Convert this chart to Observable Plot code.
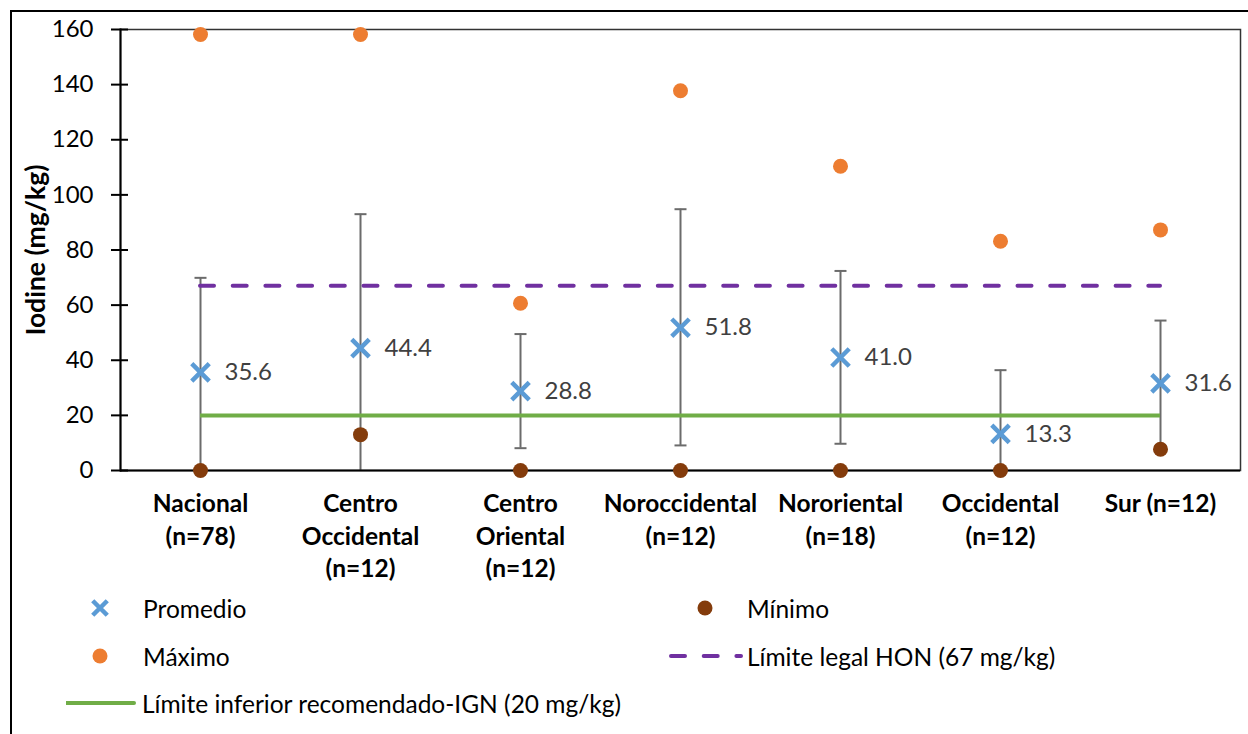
<!DOCTYPE html>
<html><head><meta charset="utf-8">
<script src="https://cdn.jsdelivr.net/npm/d3@7"></script>
<script src="https://cdn.jsdelivr.net/npm/@observablehq/plot@0.6"></script>
<style>
body{margin:0;background:#fff;font-family:Lato,"Open Sans",sans-serif;}
#wrap{position:relative;width:1248px;height:734px;overflow:hidden;background:#fff;}
#frame{position:absolute;left:10px;top:10px;width:1300px;height:800px;border-left:2px solid #000;border-top:2px solid #000;z-index:2;pointer-events:none;}
#chart{position:absolute;left:0;top:0;z-index:1;}
#legend{position:absolute;left:0;top:0;z-index:1;}
.leg{position:absolute;height:30px;display:flex;align-items:center;font-size:24.5px;color:#000;white-space:nowrap;}
.leg svg{flex:none;}
</style></head>
<body><div id="wrap"><div id="chart"></div><div id="legend"></div><div id="frame"></div></div>
<script>
const regions = ["Nacional\n(n=78)", "Centro\nOccidental\n(n=12)", "Centro\nOriental\n(n=12)", "Noroccidental\n(n=12)", "Nororiental\n(n=18)", "Occidental\n(n=12)", "Sur (n=12)"];
const promedio = [35.6, 44.4, 28.8, 51.8, 41.0, 13.3, 31.6];
const maximo = [158.2, 158.2, 60.7, 137.8, 110.4, 83.2, 87.3];
const minimo = [0, 13.0, 0, 0, 0, 0, 7.7];
const errHigh = [69.9, 93.0, 49.5, 94.8, 72.4, 36.4, 54.4];
const errLow = [0, 0, 8.1, 9.1, 9.7, 0, 8.8];
const limiteHON = 67;
const limiteIGN = 20;
const yTicks = [0, 20, 40, 60, 80, 100, 120, 140, 160];
const yLabel = "Iodine (mg/kg)";
const legendLabels = ["Promedio", "Mínimo", "Máximo", "Límite legal HON (67 mg/kg)", "Límite inferior recomendado-IGN (20 mg/kg)"];

const data = regions.map((r, i) => ({region: r, promedio: promedio[i], max: maximo[i], min: minimo[i], high: errHigh[i], low: errLow[i]}));
const font = "Lato, 'Open Sans', sans-serif";
const errColor = "#6b6b6b";

// horizontal cap symbol for error bars
const capSymbol = {draw(context, size) { const h = Math.sqrt(size / Math.PI); context.moveTo(-h, 0); context.lineTo(h, 0); }};

const chart = Plot.plot({
  width: 1248, height: 590,
  marginTop: 29, marginRight: 8, marginBottom: 120, marginLeft: 120,
  style: {fontFamily: font, background: "transparent", overflow: "visible"},
  x: {type: "point", domain: regions, padding: 0.5},
  y: {domain: [0, 160]},
  marks: [
    Plot.frame({stroke: "#333", strokeWidth: 1.5}),
    Plot.ruleX(data, {x: "region", y1: "low", y2: "high", stroke: errColor, strokeWidth: 2}),
    Plot.dot(data, {x: "region", y: "high", symbol: capSymbol, r: 6, stroke: errColor, strokeWidth: 2}),
    Plot.dot(data.filter(d => d.low > 0), {x: "region", y: "low", symbol: capSymbol, r: 6, stroke: errColor, strokeWidth: 2}),
    Plot.ruleY([limiteIGN], {y: d => d, x1: () => regions[0], x2: () => regions[regions.length - 1], stroke: "#70AD47", strokeWidth: 4}),
    Plot.ruleY([limiteHON], {y: d => d, x1: () => regions[0], x2: () => regions[regions.length - 1], stroke: "#7030A0", strokeWidth: 4, strokeDasharray: "14,18.7", strokeLinecap: "round"}),
    Plot.ruleY([0], {stroke: "#000", strokeWidth: 2}),
    Plot.frame({anchor: "left", stroke: "#000", strokeWidth: 2}),
    Plot.dot(data, {x: "region", y: "max", r: 7.5, fill: "#ED7D31"}),
    Plot.dot(data, {x: "region", y: "min", r: 7.5, fill: "#843C0C"}),
    Plot.dot(data, {x: "region", y: "promedio", symbol: "times", r: 8, stroke: "#5B9BD5", strokeWidth: 4.5}),
    Plot.text(data, {x: "region", y: "promedio", text: d => d.promedio.toFixed(1), dx: 24, textAnchor: "start", fontSize: 24, fill: "#404040"}),
    Plot.axisY({ticks: yTicks, tickSize: 17, dx: 8, tickFormat: () => "", stroke: "#000", strokeWidth: 2, label: null}),
    Plot.axisY({ticks: yTicks, tickSize: 0, tickPadding: 27, fontSize: 24, fill: "#000", label: null}),
    Plot.axisY({ticks: [], tickSize: 0, label: yLabel, labelAnchor: "center", labelOffset: 94, labelArrow: "none", fontSize: 26.5, fontWeight: "bold", fill: "#000"}),
    Plot.axisX({tickSize: 0, tickPadding: 18, fontSize: 24.5, fontWeight: "bold", lineHeight: 1.34, label: null, fill: "#000"})
  ]
});
document.getElementById("chart").appendChild(chart);

// legend
const legend = d3.select("#legend");
const items = [
  {label: legendLabels[0], kind: "times", color: "#5B9BD5", sx: 90, tx: 143, y: 608},
  {label: legendLabels[1], kind: "dot", color: "#843C0C", sx: 695, tx: 747, y: 608},
  {label: legendLabels[2], kind: "dot", color: "#ED7D31", sx: 90, tx: 143, y: 656},
  {label: legendLabels[3], kind: "dash", color: "#7030A0", sx: 668, tx: 747, y: 656},
  {label: legendLabels[4], kind: "line", color: "#70AD47", sx: 66, tx: 142, y: 703}
];
items.forEach(it => {
  const w = it.tx - it.sx;
  const div = legend.append("div").attr("class", "leg").style("left", it.sx + "px").style("top", (it.y - 15) + "px");
  const svg = div.append("svg").attr("width", w).attr("height", 30);
  if (it.kind === "times") {
    svg.append("path").attr("d", d3.symbol(d3.symbolTimes, 140)()).attr("transform", "translate(10,15)").attr("stroke", it.color).attr("stroke-width", 4.5).attr("fill", "none");
  } else if (it.kind === "dot") {
    svg.append("circle").attr("cx", 10).attr("cy", 15).attr("r", 7.5).attr("fill", it.color);
  } else if (it.kind === "dash") {
    svg.append("line").attr("x1", 3).attr("x2", w - 6).attr("y1", 15).attr("y2", 15).attr("stroke", it.color).attr("stroke-width", 4).attr("stroke-linecap", "round").attr("stroke-dasharray", "14,18.7");
  } else {
    svg.append("line").attr("x1", 0).attr("x2", w - 8).attr("y1", 15).attr("y2", 15).attr("stroke", it.color).attr("stroke-width", 4).attr("stroke-linecap", "round");
  }
  div.append("span").text(it.label);
});
</script>
</body></html>
